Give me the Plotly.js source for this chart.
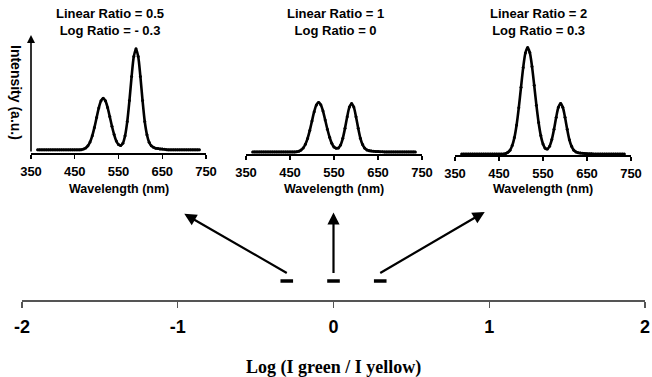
<!DOCTYPE html>
<html>
<head>
<meta charset="utf-8">
<script src="https://cdn.plot.ly/plotly-3.0.1.min.js"></script>
<style>html,body{margin:0;padding:0;background:#fff;}#chart{width:652px;height:377px;}</style>
</head>
<body>
<div id="chart"></div>
<script>
// ---------- DATA ----------
const wavelength = [365,370,375,380,385,390,395,400,405,410,415,420,425,430,435,440,445,450,455,460,465,470,
  475,480,485,490,495,500,505,510,515,520,525,530,535,540,545,550,555,560,565,570,575,580,585,590,595,600,
  605,610,615,620,625,630,635,640,645,650,655,660,665,670,675,680,685,690,695,700,705,710,715,720,725,730,735];

// Spectrum: Linear ratio 0.5 (log -0.3)
const intensityRatio05 = [0.03,0.03,0.03,0.03,0.03,0.03,0.03,0.03,0.03,0.03,0.03,0.03,0.03,0.03,0.03,0.03,0.03,0.03,0.03,0.03,0.032,0.037,
  0.048,0.068,0.105,0.163,0.243,0.337,0.428,0.495,0.52,0.496,0.433,0.346,0.254,0.175,0.114,0.080,0.071,0.093,0.164,0.298,0.498,0.727,0.916,0.99,0.916,0.727,
  0.498,0.299,0.174,0.102,0.068,0.054,0.046,0.042,0.039,0.037,0.035,0.032,0.03,0.03,0.03,0.03,0.03,0.03,0.03,0.03,0.03,0.03,0.03,0.03,0.03,0.03,0.03];

// Spectrum: Linear ratio 1 (log 0)
const intensityRatio1 = [0.02,0.02,0.02,0.02,0.02,0.02,0.02,0.02,0.02,0.02,0.02,0.02,0.02,0.02,0.02,0.02,0.02,0.02,0.02,0.02,0.022,0.027,
  0.037,0.057,0.092,0.148,0.224,0.314,0.402,0.466,0.49,0.467,0.407,0.323,0.235,0.159,0.101,0.066,0.055,0.058,0.086,0.149,0.244,0.354,0.445,0.48,0.445,0.354,
  0.244,0.149,0.089,0.055,0.038,0.032,0.028,0.026,0.024,0.023,0.022,0.021,0.02,0.02,0.02,0.02,0.02,0.02,0.02,0.02,0.02,0.02,0.02,0.02,0.02,0.02,0.02];

// Spectrum: Linear ratio 2 (log 0.3)
const intensityRatio2 = [0.01,0.01,0.01,0.01,0.01,0.01,0.01,0.01,0.01,0.01,0.01,0.01,0.01,0.01,0.01,0.01,0.01,0.01,0.01,0.01,0.015,0.025,
  0.046,0.089,0.165,0.285,0.449,0.642,0.83,0.968,1.02,0.972,0.841,0.661,0.473,0.308,0.184,0.105,0.064,0.056,0.083,0.146,0.244,0.358,0.453,0.49,0.453,0.358,
  0.244,0.144,0.082,0.046,0.029,0.022,0.018,0.016,0.014,0.013,0.012,0.011,0.01,0.01,0.01,0.01,0.01,0.01,0.01,0.01,0.01,0.01,0.01,0.01,0.01,0.01,0.01];

const linearRatios = ['0.5', '1', '2'];
const logRatioLabels = ['- 0.3', '0', '0.3'];
const logRatios = [-0.3, 0, 0.3];
const pointLevel = [0.19, 0.19, 0.19];

const wavelengthTicks = [350, 450, 550, 650, 750];
const logTicks = [-2, -1, 0, 1, 2];

// ---------- LAYOUT HELPERS ----------
const W = 652, H = 377;
const px = v => v / W;
const py = v => 1 - v / H;
const SANS = 'Liberation Sans, Arial, sans-serif';
const SERIF = 'Liberation Serif, Times New Roman, serif';

const spectra = [intensityRatio05, intensityRatio1, intensityRatio2];
// pixel boxes of the three small panels: [left(350nm), right(750nm), baseline, top]
const panels = [[31, 206, 153, 35], [246, 422, 154, 36], [455, 631, 155, 37]];
const titleX = [110, 335, 538];

const traces = spectra.map((s, i) => ({
  type: 'scatter', mode: 'lines+markers', x: wavelength, y: s,
  xaxis: i === 0 ? 'x' : 'x' + (i + 1), yaxis: i === 0 ? 'y' : 'y' + (i + 1),
  line: {color: '#000', width: 2.6, shape: 'spline', smoothing: 0.8},
  marker: {color: '#000', size: 3},
  hoverinfo: 'skip', showlegend: false
}));

traces.push({
  type: 'scatter', mode: 'markers', x: logRatios, y: pointLevel,
  xaxis: 'x4', yaxis: 'y4',
  marker: {symbol: 'line-ew', size: 9, color: '#000', line: {color: '#000', width: 3.5}},
  hoverinfo: 'skip', showlegend: false
});

const layout = {
  width: W, height: H,
  margin: {l: 0, r: 0, t: 0, b: 0},
  paper_bgcolor: '#fff', plot_bgcolor: 'rgba(0,0,0,0)',
  showlegend: false,
  annotations: []
};

panels.forEach((p, i) => {
  const xa = i === 0 ? 'xaxis' : 'xaxis' + (i + 1);
  const ya = i === 0 ? 'yaxis' : 'yaxis' + (i + 1);
  layout[xa] = {
    domain: [px(p[0]), px(p[1])], range: [350, 750], anchor: i === 0 ? 'y' : 'y' + (i + 1),
    tickvals: wavelengthTicks, ticktext: wavelengthTicks.map(String),
    ticks: 'outside', ticklen: 4, tickwidth: 1.2, tickcolor: '#000',
    showline: true, linecolor: '#000', linewidth: 1.5,
    showgrid: false, zeroline: false, fixedrange: true,
    tickfont: {family: SANS, size: 13, color: '#000', weight: 'bold'},
    ticklabelstandoff: 2
  };
  layout[ya] = {
    domain: [py(p[2]), py(p[3])], range: [0, 1.12], anchor: i === 0 ? 'x' : 'x' + (i + 1),
    visible: false, fixedrange: true
  };
  layout.annotations.push({
    xref: 'paper', yref: 'paper', x: px(titleX[i]), y: py(22), xanchor: 'center', yanchor: 'middle',
    text: 'Linear Ratio = ' + linearRatios[i] + '<br>Log Ratio = ' + logRatioLabels[i],
    showarrow: false, font: {family: SANS, size: 13, color: '#000', weight: 'bold'}
  });
  layout.annotations.push({
    xref: 'paper', yref: 'paper', x: px((p[0] + p[1]) / 2), y: py(189), xanchor: 'center', yanchor: 'middle',
    text: 'Wavelength (nm)', showarrow: false,
    font: {family: SANS, size: 12.5, color: '#000', weight: 'bold'}
  });
});

// y-axis arrow of first panel
layout.annotations.push({
  xref: 'paper', yref: 'paper', x: px(panels[0][0]), y: py(panels[0][3]),
  ax: 0, ay: panels[0][2] - panels[0][3], axref: 'pixel', ayref: 'pixel',
  text: '', showarrow: true, arrowhead: 2, arrowsize: 1, arrowwidth: 1.6, arrowcolor: '#000'
});
layout.annotations.push({
  xref: 'paper', yref: 'paper', x: px(16), y: py(92), xanchor: 'center', yanchor: 'middle',
  text: 'Intensity (a.u.)', textangle: 90, showarrow: false,
  font: {family: SANS, size: 14, color: '#000', weight: 'bold'}
});

// bottom number line
layout.xaxis4 = {
  domain: [px(22), px(645)], range: [-2, 2], anchor: 'y4',
  tickvals: logTicks, ticktext: logTicks.map(String),
  ticks: 'outside', ticklen: 6, tickwidth: 1.2, tickcolor: '#555',
  showline: true, linecolor: '#555', linewidth: 1.5,
  showgrid: false, zeroline: false, fixedrange: true,
  tickfont: {family: SANS, size: 18, color: '#000', weight: 'bold'},
  ticklabelstandoff: 4
};
layout.yaxis4 = {domain: [py(300), py(200)], range: [0, 1], anchor: 'x4', visible: false, fixedrange: true};

layout.annotations.push({
  xref: 'paper', yref: 'paper', x: px(333), y: py(367), xanchor: 'center', yanchor: 'middle',
  text: 'Log (I green / I yellow)', showarrow: false,
  font: {family: SERIF, size: 18, color: '#000', weight: 'bold'}
});

// arrows from each ratio point to its spectrum panel
const tipOffsets = [[-104, -60], [0, -62], [106, -62]];
logRatios.forEach((lr, i) => {
  layout.annotations.push({
    xref: 'x4', yref: 'y4', x: lr, y: pointLevel[i], yshift: 8,
    ax: tipOffsets[i][0], ay: tipOffsets[i][1], axref: 'pixel', ayref: 'pixel',
    text: '', showarrow: true, arrowside: 'start', startarrowhead: 2, startarrowsize: 1.1,
    arrowwidth: 2.2, arrowcolor: '#000'
  });
});

Plotly.newPlot('chart', traces, layout, {staticPlot: true, displayModeBar: false});
</script>
</body>
</html>
